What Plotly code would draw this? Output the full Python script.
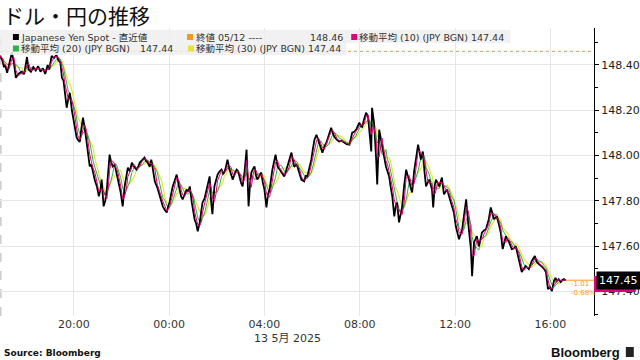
import pandas as pd
import plotly.graph_objects as go

# ---------------- data ----------------
start = pd.Timestamp("2025-05-12 17:00")
minutes = [
    -6, 0, 4, 7, 12, 17, 24, 29, 34, 40, 49, 55, 62, 66, 72, 78, 84, 90, 96, 102,
    108, 114, 118, 124, 130, 136, 141, 146, 150, 154, 157, 162, 166, 170, 175, 179, 183, 187, 190, 195,
    199, 203, 208, 212, 215, 220, 224, 228, 233, 238, 243, 247, 250, 255, 259, 263, 267, 270, 274, 278,
    283, 287, 291, 298, 303, 308, 312, 316, 321, 326, 332, 338, 342, 346, 352, 358, 362, 366, 371, 375,
    378, 384, 390, 396, 400, 404, 409, 414, 418, 421, 425, 429, 434, 439, 443, 446, 450, 454, 459, 464,
    468, 472, 477, 481, 484, 488, 492, 497, 501, 504, 509, 514, 518, 522, 526, 529, 534, 538, 542, 547,
    552, 556, 559, 563, 567, 572, 576, 580, 585, 590, 594, 597, 601, 605, 610, 615, 620, 624, 627, 631,
    635, 639, 642, 647, 652, 656, 660, 665, 669, 673, 677, 680, 688, 693, 698, 703, 710, 714, 718, 723,
    728, 735, 740, 743, 748, 753, 760, 764, 768, 773, 778, 782, 786, 791, 795, 798, 802, 806, 811, 816,
    822, 828, 832, 836, 842, 848, 854, 861, 867, 874, 878, 881, 886, 891, 895, 899, 903, 906, 911, 916,
    921, 926, 929, 931, 936, 941, 944, 949, 956, 961, 966, 970, 974, 978, 982, 987, 991, 994, 999, 1003,
    1007, 1012, 1017, 1021, 1024, 1028, 1032, 1037, 1042, 1047, 1054, 1059, 1063, 1067, 1071, 1075, 1079, 1082, 1085, 1089,
    1092, 1096, 1100, 1107, 1112, 1120, 1125, 1130, 1137, 1142, 1146, 1150, 1158, 1163, 1168, 1173, 1177, 1180, 1183, 1188,
    1195, 1200, 1204, 1208, 1213, 1218, 1225, 1230, 1238, 1245, 1250, 1255, 1260, 1268, 1272, 1276, 1283, 1288, 1293, 1297,
    1301, 1308, 1313, 1318, 1326, 1333, 1341, 1346, 1351, 1358, 1364, 1369, 1374, 1379, 1384, 1389, 1393, 1396, 1401, 1406,
    1410, 1414, 1419,
]
prices = [
    148.440, 148.420, 148.390, 148.400, 148.365, 148.400, 148.455, 148.410, 148.343, 148.360,
    148.370, 148.360, 148.435, 148.380, 148.370, 148.390, 148.375, 148.395, 148.370, 148.385,
    148.360, 148.400, 148.380, 148.440, 148.430, 148.445, 148.420, 148.410, 148.343, 148.330,
    148.290, 148.211, 148.250, 148.277, 148.200, 148.160, 148.114, 148.080, 148.070, 148.060,
    148.120, 148.167, 148.114, 148.050, 148.013, 147.952, 147.960, 147.925, 147.890, 147.864,
    147.820, 147.850, 147.894, 147.776, 147.800, 147.850, 147.950, 148.004, 147.970, 147.952,
    147.960, 147.920, 147.894, 147.837, 147.776, 147.864, 147.910, 147.947, 147.930, 147.969,
    147.950, 147.938, 147.950, 147.969, 147.980, 147.991, 147.975, 147.969, 147.950, 147.982,
    147.950, 147.886, 147.860, 147.820, 147.800, 147.776, 147.760, 147.749, 147.780, 147.793,
    147.830, 147.864, 147.890, 147.916, 147.880, 147.850, 147.820, 147.807, 147.830, 147.850,
    147.840, 147.864, 147.793, 147.750, 147.719, 147.700, 147.666, 147.705, 147.750, 147.793,
    147.810, 147.850, 147.880, 147.908, 147.790, 147.741, 147.864, 147.890, 147.916, 147.930,
    147.938, 147.920, 147.925, 147.950, 147.982, 147.938, 147.920, 147.894, 147.920, 147.938,
    147.930, 147.908, 147.880, 147.864, 147.930, 148.026, 147.776, 147.880, 147.925, 147.940,
    147.952, 147.910, 147.894, 147.910, 147.925, 147.880, 147.850, 147.771, 147.830, 147.850,
    147.900, 147.938, 148.004, 147.952, 147.940, 147.925, 147.908, 147.930, 147.952, 147.980,
    148.013, 147.950, 147.960, 147.952, 147.920, 147.894, 147.886, 147.910, 147.908, 147.940,
    147.982, 148.030, 148.070, 148.092, 148.070, 148.057, 148.030, 148.013, 148.040, 148.057,
    148.090, 148.123, 148.100, 148.083, 148.070, 148.062, 148.065, 148.057, 148.050, 148.048,
    148.080, 148.101, 148.105, 148.114, 148.130, 148.145, 148.130, 148.127, 148.160, 148.189,
    148.171, 148.090, 148.018, 148.211, 148.145, 147.996, 147.872, 148.114, 148.040, 148.000,
    147.952, 147.930, 147.908, 147.860, 147.820, 147.732, 147.780, 147.793, 147.705, 147.740,
    147.776, 147.870, 147.938, 147.910, 147.894, 147.860, 147.837, 147.930, 147.996, 148.048,
    147.982, 148.018, 147.930, 147.864, 147.880, 147.894, 147.870, 147.850, 147.771, 147.870,
    147.894, 147.880, 147.864, 147.903, 147.829, 147.850, 147.820, 147.793, 147.749, 147.688,
    147.660, 147.631, 147.675, 147.740, 147.807, 147.705, 147.640, 147.587, 147.468, 147.618,
    147.644, 147.600, 147.630, 147.661, 147.670, 147.675, 147.719, 147.771, 147.719, 147.732,
    147.700, 147.661, 147.587, 147.644, 147.630, 147.618, 147.587, 147.590, 147.600, 147.570,
    147.534, 147.486, 147.500, 147.512, 147.499, 147.534, 147.557, 147.530, 147.521, 147.512,
    147.500, 147.486, 147.411, 147.420, 147.402, 147.446, 147.460, 147.446, 147.455, 147.442,
    147.450, 147.455, 147.450,
]
prev_close = 148.46
last_price = 147.45
ma10_last = 147.44
x_tick_vals = ["2025-05-12 20:00", "2025-05-13 00:00", "2025-05-13 04:00",
               "2025-05-13 08:00", "2025-05-13 12:00", "2025-05-13 16:00"]
x_tick_text = ["20:00", "00:00", "04:00", "08:00", "12:00", "16:00"]
y_tick_vals = [147.40, 147.60, 147.80, 148.00, 148.20, 148.40]
y_tick_text = ["147.40", "147.60", "147.80", "148.00", "148.20", "148.40"]
x_range = ["2025-05-12 16:54", "2025-05-13 17:50"]
y_range = [147.292, 148.563]

# ---------------- derived ----------------
times = start + pd.to_timedelta(minutes, unit="min")
s = pd.Series(prices, index=times)
ma10 = s.rolling("10min").mean()
ma20 = s.rolling("20min").mean()
ma30 = s.rolling("30min").mean()
chg = last_price - prev_close
pct = chg / prev_close * 100

C_BLACK = "#000000"
C_MAG = "#e2007a"
C_GREEN = "#2db34a"
C_YEL = "#e8e33a"
C_ORANGE = "#f39a1e"

fig = go.Figure()
fig.add_trace(go.Scatter(x=times, y=ma30.values, mode="lines", line=dict(color=C_YEL, width=1.2)))
fig.add_trace(go.Scatter(x=times, y=ma20.values, mode="lines", line=dict(color=C_GREEN, width=1)))
fig.add_trace(go.Scatter(x=times, y=prices, mode="lines", line=dict(color=C_BLACK, width=1.8)))
fig.add_trace(go.Scatter(x=times, y=ma10.values, mode="lines", line=dict(color=C_MAG, width=1)))

# plot area geometry (pixels) for paper conversions
PL, PR, PT, PB = 0, 597, 28, 316
def px(x):
    return (x - PL) / (PR - PL)
def py(y):
    return (PB - y) / (PB - PT)

shapes = []
shapes.append(dict(type="line", xref="paper", yref="y", x0=0, x1=1, y0=prev_close, y1=prev_close,
                   line=dict(color=C_ORANGE, width=1, dash="dot"), layer="above"))
shapes.append(dict(type="line", xref="x", yref="y", x0=times[-1], x1=x_range[1], y0=last_price, y1=last_price,
                   line=dict(color=C_ORANGE, width=1), layer="above"))
shapes.append(dict(type="line", xref="paper", yref="paper", x0=0.0015, x1=0.0015, y0=0, y1=1,
                   line=dict(color="#b0b0b0", width=1, dash="dash"), layer="below"))
shapes.append(dict(type="rect", xref="paper", yref="paper", x0=px(0), x1=px(513), y0=py(43), y1=py(30),
                   fillcolor="rgba(238,238,238,0.85)", line=dict(width=0), layer="above"))
shapes.append(dict(type="rect", xref="paper", yref="paper", x0=px(0), x1=px(348), y0=py(55), y1=py(43),
                   fillcolor="rgba(238,238,238,0.85)", line=dict(width=0), layer="above"))
for (x0, yc, col) in [(13, 37, C_BLACK), (188, 37, C_ORANGE), (353, 37, C_MAG),
                      (13, 48.5, C_GREEN), (189, 48.5, C_YEL)]:
    shapes.append(dict(type="rect", xref="paper", yref="paper", x0=px(x0), x1=px(x0 + 6),
                       y0=py(yc + 3), y1=py(yc - 3), fillcolor=col, line=dict(width=0), layer="above"))
shapes.append(dict(type="rect", xref="paper", yref="paper", x0=px(629), x1=px(637), y0=py(357), y1=py(347),
                   fillcolor="#222", line=dict(width=0), layer="above"))
# magenta MA(10) tag peeking under the last-price tag
shapes.append(dict(type="rect", xref="paper", yref="paper", x0=px(597), x1=px(639), y0=py(292), y1=py(276),
                   fillcolor=C_MAG, line=dict(width=0), layer="above"))

LEG_FONT = dict(family="DejaVu Sans, Noto Sans CJK JP", size=9.5, color="#333")
ann = []
def leg(x, y, text, anchor="left"):
    ann.append(dict(xref="paper", yref="paper", x=px(x), y=py(y), text=text, showarrow=False,
                    xanchor=anchor, yanchor="middle", font=LEG_FONT))

leg(19, 37, "Japanese Yen Spot - 直近値")
leg(195, 37, "終値 05/12 ----")
leg(347, 37, f"{prev_close:.2f}", "right")
leg(359, 37, f"移動平均 (10) (JPY BGN) {ma10_last:.2f}")
leg(19, 48.5, "移動平均 (20) (JPY BGN)")
leg(176, 48.5, f"{ma10_last:.2f}", "right")
leg(195, 48.5, f"移動平均 (30) (JPY BGN) {ma10_last:.2f}")

ann.append(dict(xref="paper", yref="paper", x=px(1), y=py(15), text="ドル・円の推移", showarrow=False,
                xanchor="left", yanchor="middle",
                font=dict(family="Noto Sans CJK JP", size=21, color="#111")))
ann.append(dict(xref="paper", yref="paper", x=px(289), y=py(338), text="13 5月 2025", showarrow=False,
                xanchor="center", yanchor="middle",
                font=dict(family="DejaVu Sans, Noto Sans CJK JP", size=11, color="#333")))
ann.append(dict(xref="paper", yref="paper", x=px(2), y=py(353), text="<b>Source: Bloomberg</b>", showarrow=False,
                xanchor="left", yanchor="middle",
                font=dict(family="DejaVu Sans", size=9, color="#111")))
ann.append(dict(xref="paper", yref="paper", x=px(625), y=py(352), text="<b>Bloomberg</b>", showarrow=False,
                xanchor="right", yanchor="middle",
                font=dict(family="Liberation Sans", size=13, color="#111")))
ann.append(dict(xref="paper", yref="y", x=px(572), y=last_price, yshift=-4, text=f"{chg:.2f}", showarrow=False,
                xanchor="left", yanchor="middle", font=dict(family="DejaVu Sans", size=7, color=C_ORANGE)))
ann.append(dict(xref="paper", yref="y", x=px(572), y=last_price, yshift=-13, text=f"{pct:.2f}%", showarrow=False,
                xanchor="left", yanchor="middle", font=dict(family="DejaVu Sans", size=7, color=C_ORANGE)))
ann.append(dict(xref="paper", yref="y", x=px(599), y=last_price, text=f"{last_price:.2f}", showarrow=False,
                xanchor="left", yanchor="middle", bgcolor="#000", borderpad=2,
                font=dict(family="DejaVu Sans", size=11, color="white")))

fig.update_layout(
    width=640, height=360,
    margin=dict(l=PL, r=640 - PR, t=PT, b=360 - PB),
    paper_bgcolor="white", plot_bgcolor="white",
    showlegend=False,
    shapes=shapes, annotations=ann,
    xaxis=dict(type="date", range=x_range, tickvals=x_tick_vals, ticktext=x_tick_text,
               showgrid=True, gridcolor="#e6e6e6", gridwidth=1, zeroline=False, showline=False,
               ticks="", tickfont=dict(family="DejaVu Sans", size=11, color="#333"), fixedrange=True),
    yaxis=dict(side="right", range=y_range, tickvals=y_tick_vals, ticktext=y_tick_text,
               showgrid=True, gridcolor="#e6e6e6", gridwidth=1, zeroline=False,
               showline=True, linecolor="#000", linewidth=1,
               ticks="outside", ticklen=4, tickcolor="#000",
               minor=dict(tickvals=[147.3, 147.5, 147.7, 147.9, 148.1, 148.3, 148.5],
                          ticks="outside", ticklen=3, tickcolor="#000", showgrid=False),
               tickfont=dict(family="DejaVu Sans", size=11, color="#222"), fixedrange=True),
)

fig.write_html("out.html")
